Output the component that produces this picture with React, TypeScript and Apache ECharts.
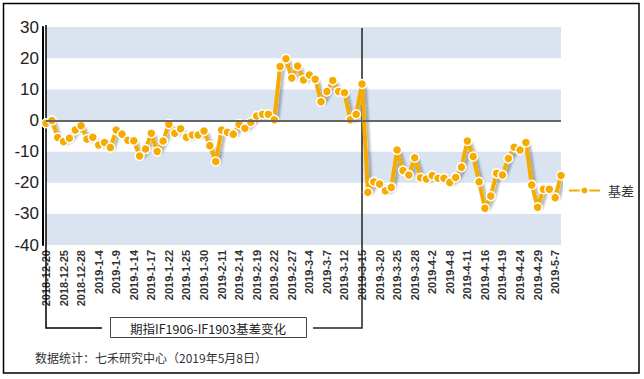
import React, { useEffect, useRef } from "react";
import * as echarts from "echarts";

const categories: string[] = [
  "2018-12-20", "2018-12-21", "2018-12-24", "2018-12-25", "2018-12-26", "2018-12-27", "2018-12-28",
  "2019-1-2", "2019-1-3", "2019-1-4", "2019-1-7", "2019-1-8", "2019-1-9", "2019-1-10", "2019-1-11",
  "2019-1-14", "2019-1-15", "2019-1-16", "2019-1-17", "2019-1-18", "2019-1-21", "2019-1-22", "2019-1-23",
  "2019-1-24", "2019-1-25", "2019-1-28", "2019-1-29", "2019-1-30", "2019-1-31", "2019-2-1",
  "2019-2-11", "2019-2-12", "2019-2-13", "2019-2-14", "2019-2-15", "2019-2-18", "2019-2-19", "2019-2-20",
  "2019-2-21", "2019-2-22", "2019-2-25", "2019-2-26", "2019-2-27", "2019-2-28", "2019-3-1",
  "2019-3-4", "2019-3-5", "2019-3-6", "2019-3-7", "2019-3-8", "2019-3-11", "2019-3-12", "2019-3-13",
  "2019-3-14", "2019-3-15", "2019-3-18", "2019-3-19", "2019-3-20", "2019-3-21", "2019-3-22",
  "2019-3-25", "2019-3-26", "2019-3-27", "2019-3-28", "2019-3-29", "2019-4-1", "2019-4-2", "2019-4-3",
  "2019-4-4", "2019-4-8", "2019-4-9", "2019-4-10", "2019-4-11", "2019-4-12", "2019-4-15", "2019-4-16",
  "2019-4-17", "2019-4-18", "2019-4-19", "2019-4-22", "2019-4-23", "2019-4-24", "2019-4-25", "2019-4-26",
  "2019-4-29", "2019-4-30", "2019-5-6", "2019-5-7", "2019-5-8",
];

const basis: number[] = [
  -0.9, 0, -5.5, -6.8, -5.7, -3.1, -1.7, -6.0, -5.4, -7.9,
  -7.1, -8.7, -3.1, -4.4, -6.4, -6.5, -11.4, -9.2, -4.1, -10.0,
  -6.6, -1.2, -4.1, -2.7, -5.4, -4.7, -4.7, -3.4, -8.1, -13.2,
  -3.1, -3.8, -4.4, -1.2, -2.5, -0.6, 1.4, 2.0, 2.0, 0.2,
  17.3, 19.8, 13.6, 17.5, 13.0, 14.6, 13.2, 6.0, 9.3, 12.8,
  9.3, 8.9, 0.2, 2.0, 11.7, -23.1, -19.7, -20.4, -22.6, -21.5,
  -9.5, -16.1, -17.5, -12.0, -18.4, -18.8, -17.7, -18.6, -18.6, -19.9,
  -18.3, -15.0, -6.6, -11.6, -19.7, -28.2, -24.3, -17.0, -17.5, -12.2,
  -8.6, -9.5, -7.1, -20.7, -27.9, -22.1, -22.1, -24.8, -17.7,
];

const seriesName = "基差";
const startDate = "2018-12-20";
const switchDate = "2019-3-15";
const boxTitle = "期指IF1906-IF1903基差变化";
const footnote = "数据统计：七禾研究中心（2019年5月8日）";

const yMin = -40;
const yMax = 30;
const yInterval = 10;

export default function App() {
  const ref = useRef<HTMLDivElement>(null);

  useEffect(() => {
    document.body.style.margin = "0";
    if (!ref.current) return;
    const chart = echarts.init(ref.current, null, { renderer: "svg" });
    const orange = "#F5AB00";
    chart.setOption({
      animation: false,
      backgroundColor: "#fff",
      grid: { left: 46, top: 27, width: 515, height: 218, containLabel: false },
      legend: {
        data: [seriesName],
        left: 563,
        top: 179,
        itemWidth: 31,
        itemHeight: 10,
        textStyle: {
          fontSize: 13,
          color: "#333",
          fontFamily: "Noto Sans CJK SC",
          padding: [0, 0, 0, 3],
        },
      },
      xAxis: {
        type: "category",
        data: categories,
        boundaryGap: false,
        axisLine: { show: false, onZero: false },
        axisTick: { show: false },
        splitLine: { show: false },
        axisLabel: {
          interval: 2,
          rotate: 90,
          margin: 5,
          fontSize: 11,
          fontWeight: "bold",
          color: "#333",
          fontFamily: "Liberation Sans",
        },
      },
      yAxis: {
        type: "value",
        min: yMin,
        max: yMax,
        interval: yInterval,
        offset: 3,
        axisLine: { show: true, lineStyle: { color: "#000", width: 2 } },
        axisTick: { show: false },
        splitLine: { show: false },
        splitArea: { show: true, areaStyle: { color: ["#D9E4F0", "#FFFFFF"] } },
        axisLabel: {
          fontSize: 17,
          color: "#222",
          margin: 4,
          fontFamily: "Liberation Sans",
        },
      },
      series: [
        {
          type: "line",
          data: [],
          z: 1,
          silent: true,
          markLine: {
            silent: true,
            symbol: "none",
            label: { show: false },
            lineStyle: { color: "#666", width: 2, type: "solid" },
            data: [{ yAxis: 0 }],
          },
        },
        {
          name: seriesName,
          type: "line",
          data: basis,
          z: 3,
          showAllSymbol: true,
          symbol: "circle",
          symbolSize: 9,
          lineStyle: {
            color: orange,
            width: 4,
            shadowColor: "rgba(0,0,0,0.28)",
            shadowBlur: 2,
            shadowOffsetX: 3,
            shadowOffsetY: 2,
          },
          itemStyle: { color: orange, borderColor: "#fff", borderWidth: 1.5 },
        },
      ],
    });

    const xL = chart.convertToPixel({ xAxisIndex: 0 }, startDate) as number;
    const xR = chart.convertToPixel({ xAxisIndex: 0 }, switchDate) as number;
    const yConn = 328;
    chart.setOption({
      graphic: [
        {
          type: "rect",
          z: 0,
          shape: { x: 3.5, y: 3.5, width: 635.5, height: 369.5 },
          style: { fill: "none", stroke: "#000", lineWidth: 1.5 },
        },
        {
          type: "polyline",
          z: 1,
          shape: { points: [[xL, 25], [xL, yConn], [102, yConn]] },
          style: { fill: "none", stroke: "#000", lineWidth: 1.5 },
        },
        {
          type: "polyline",
          z: 1,
          shape: { points: [[xR, 28], [xR, yConn], [313, yConn]] },
          style: { fill: "none", stroke: "#222", lineWidth: 1.5 },
        },
        {
          type: "rect",
          z: 1,
          shape: { x: 110.5, y: 317.5, width: 196, height: 20 },
          style: { fill: "#fff", stroke: "#444", lineWidth: 1 },
        },
        {
          type: "text",
          z: 2,
          x: 208,
          y: 328,
          style: {
            text: boxTitle,
            align: "center",
            verticalAlign: "middle",
            fontSize: 12.5,
            fill: "#222",
            fontFamily: "Noto Sans CJK SC",
          },
        },
        {
          type: "text",
          z: 2,
          x: 35,
          y: 357,
          style: {
            text: footnote,
            align: "left",
            verticalAlign: "middle",
            fontSize: 12,
            fill: "#333",
            fontFamily: "Noto Sans CJK SC",
          },
        },
      ],
    });

    return () => chart.dispose();
  }, []);

  return (
    <div
      ref={ref}
      style={{ position: "absolute", left: 0, top: 0, width: 644, height: 379 }}
    />
  );
}
